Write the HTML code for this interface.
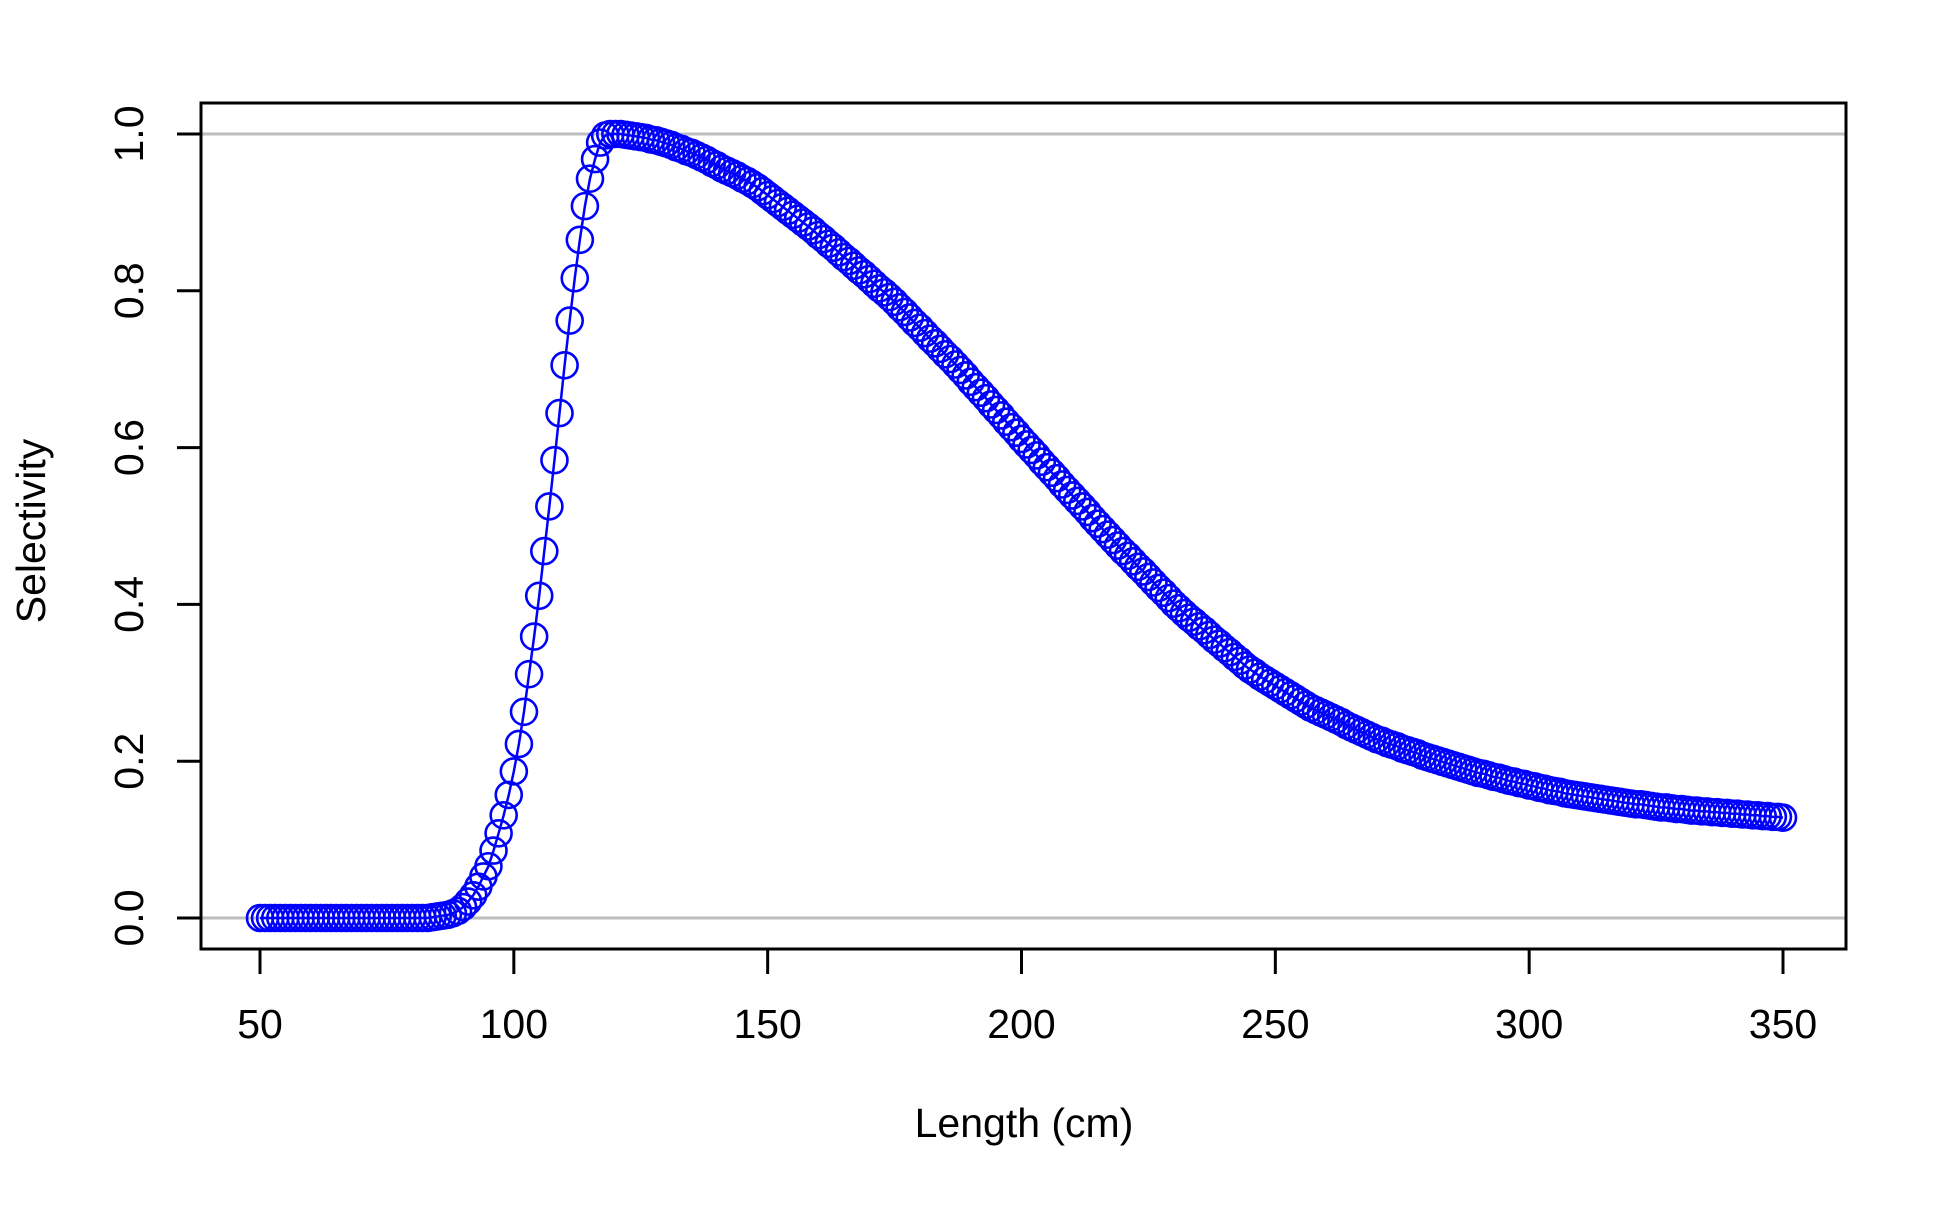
<!DOCTYPE html>
<html><head><meta charset="utf-8"><style>
html,body{margin:0;padding:0;background:#fff;}
svg text{font-family:"Liberation Sans",Arial,sans-serif;font-size:41px;fill:#000;}
</style></head><body>
<svg id="chart" width="1950" height="1200" viewBox="0 0 1950 1200" xmlns="http://www.w3.org/2000/svg">
<rect width="1950" height="1200" fill="#fff"/>
<g id="grid"></g>
<g id="series"></g>
<g id="axes"></g>
<text x="1024" y="1137" text-anchor="middle">Length (cm)</text>
<text transform="translate(45,531) rotate(-90)" text-anchor="middle">Selectivity</text>
</svg>
<script>
const xStart = 50;
const selectivity = [
0,0,0,0,0,0,0,0,0,0,0,0,0,0,0,0,0,0,0,0,0,0,0,0,0,0,0,0,0,0,0,0,0,0,
0.001,0.002,0.003,0.004,0.006,0.009,0.014,0.021,0.029,0.040,0.053,0.066,0.086,0.108,0.131,0.157,
0.187,0.222,0.263,0.311,0.359,0.411,0.468,0.525,0.584,0.644,0.705,0.762,0.816,0.865,0.908,0.943,0.968,0.989,0.998,1.0,
1.0,1.0,0.999,0.998,
0.997,0.996,0.995,0.993,0.992,0.990,0.988,0.986,0.983,0.981,0.978,0.976,0.973,0.970,0.967,0.963,0.960,0.956,0.953,0.950,0.947,0.943,0.940,0.936,0.932,
0.927,0.922,0.917,0.912,0.907,0.902,0.897,0.892,0.887,0.882,0.877,0.871,0.866,
0.860,0.855,0.849,0.843,0.838,0.832,0.826,0.821,0.815,0.809,0.803,0.798,0.792,
0.786,0.779,0.773,0.766,0.759,0.753,0.746,0.739,0.733,0.726,0.719,0.713,0.706,
0.699,0.692,0.684,0.677,0.670,0.663,0.655,0.648,0.641,0.633,0.626,0.619,0.611,0.604,0.597,0.590,0.582,0.575,
0.568,0.561,0.553,0.546,0.539,0.532,0.525,0.518,0.510,0.503,0.496,0.489,0.482,
0.475,0.468,0.462,0.455,0.448,0.442,0.435,0.428,0.421,0.415,0.408,0.401,0.395,
0.389,0.383,0.378,0.372,0.367,0.361,0.355,0.350,0.344,0.339,0.333,0.328,0.322,
0.317,0.313,0.308,0.304,0.300,0.296,0.292,0.288,0.284,0.280,0.276,0.272,0.268,
0.265,0.262,0.259,0.256,0.253,0.250,0.246,0.243,0.240,0.237,0.234,0.231,0.228,
0.226,0.223,0.221,0.219,0.216,0.214,0.212,0.210,0.207,0.205,0.203,0.201,0.199,0.197,0.195,0.193,0.191,0.189,
0.187,0.185,0.184,0.182,0.180,0.179,0.177,0.175,0.174,0.172,0.171,0.169,0.168,0.166,0.165,0.163,0.162,0.161,0.159,0.158,
0.157,0.156,0.155,0.154,0.153,0.152,0.151,0.150,0.149,0.148,0.147,0.146,0.145,0.145,0.144,0.143,0.142,0.141,0.141,0.140,
0.139,0.139,0.138,0.137,0.137,0.136,0.136,0.135,0.135,0.134,0.134,0.133,0.133,0.132,0.132,0.131,0.131,0.130,0.130,0.129,0.129,0.128
];
const xTicks = [50,100,150,200,250,300,350];
const yTicks = [0.0,0.2,0.4,0.6,0.8,1.0];
const yTickLabels = ["0.0","0.2","0.4","0.6","0.8","1.0"];
const refLines = [0,1];

const NS = "http://www.w3.org/2000/svg";
const plot = {left:201, right:1846, top:103, bottom:949};
function xs(v){ return 260 + (v - 50) * (1523 / 300); }
function ys(v){ return 918 - v * 784; }
function mk(tag, attrs, parent){ const e = document.createElementNS(NS, tag); for (const k in attrs) e.setAttribute(k, attrs[k]); parent.appendChild(e); return e; }

const grid = document.getElementById('grid');
refLines.forEach(v => {
  const l = mk('line', {x1:plot.left, x2:plot.right, y1:ys(v), y2:ys(v), stroke:'#bebebe', 'stroke-width':3}, grid);
  
  
});

const series = document.getElementById('series');
const pts = selectivity.map((v,i) => xs(xStart + i).toFixed(2) + ',' + ys(v).toFixed(2)).join(' ');
const pl = mk('polyline', {points:pts, fill:'none', stroke:'#0000ff', 'stroke-width':2.5}, series);


selectivity.forEach((v,i) => {
  const c = mk('circle', {cx:xs(xStart + i), cy:ys(v), r:13, fill:'none', stroke:'#0000ff', 'stroke-width':2.6}, series);
  
  
});

const axes = document.getElementById('axes');
const box = mk('rect', {x:plot.left, y:plot.top, width:plot.right-plot.left, height:plot.bottom-plot.top, fill:'none', stroke:'#000', 'stroke-width':3}, axes);


xTicks.forEach(t => {
  const l = mk('line', {x1:xs(t), x2:xs(t), y1:plot.bottom, y2:974, stroke:'#000', 'stroke-width':3}, axes);
  
  
  const tx = mk('text', {x:xs(t), y:1038, 'text-anchor':'middle'}, axes);
  tx.textContent = String(t);
  
  
});
yTicks.forEach((t,i) => {
  const l = mk('line', {x1:177, x2:plot.left, y1:ys(t), y2:ys(t), stroke:'#000', 'stroke-width':3}, axes);
  
  
  const tx = mk('text', {transform:'translate(143,' + ys(t) + ') rotate(-90)', 'text-anchor':'middle'}, axes);
  tx.textContent = yTickLabels[i];
  
  
});
</script>
</body></html>
